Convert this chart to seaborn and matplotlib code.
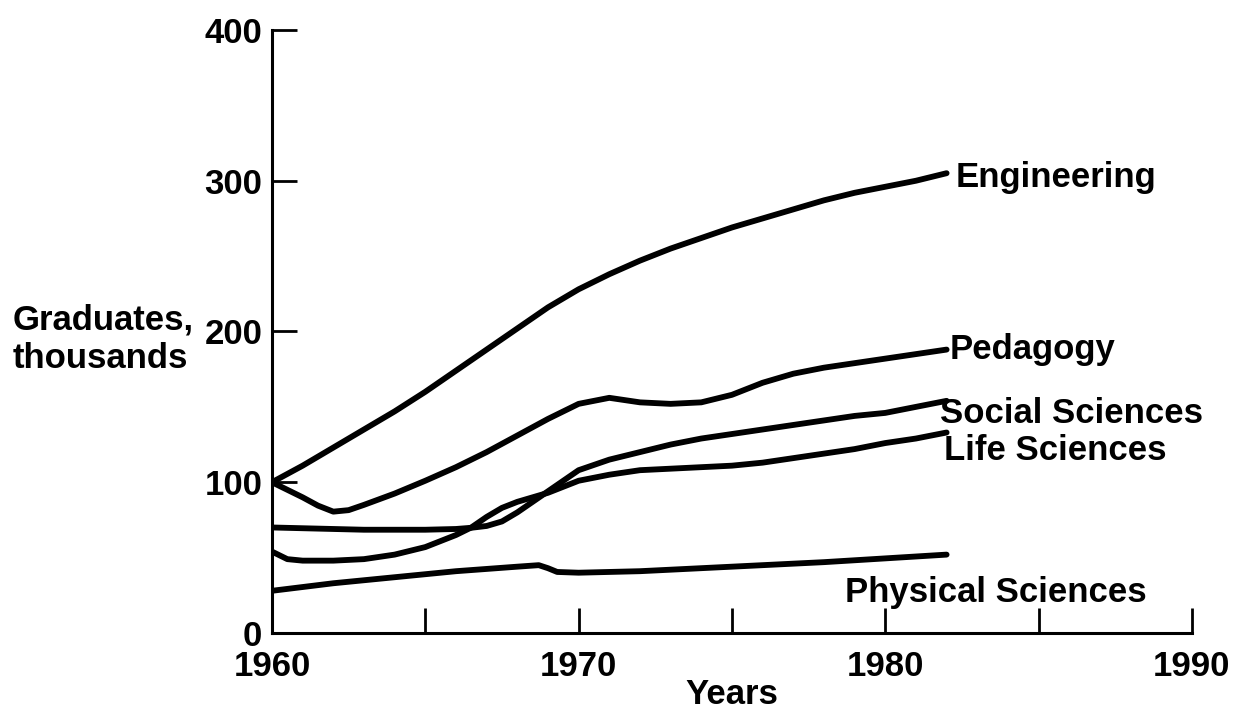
import matplotlib
matplotlib.use("Agg")
import matplotlib.pyplot as plt
import seaborn as sns
import pandas as pd

# values (thousands of graduates)
eng_years = [1960, 1961, 1962, 1963, 1964, 1965, 1966, 1967, 1968, 1969, 1970, 1971,
             1972, 1973, 1974, 1975, 1976, 1977, 1978, 1979, 1980, 1981, 1982]
eng_vals = [100, 111, 123, 135, 147, 160, 174, 188, 202, 216, 228, 238,
            247, 255, 262, 269, 275, 281, 287, 292, 296, 300, 305]

ped_years = [1960, 1961, 1961.5, 1962, 1962.5, 1963, 1964, 1965, 1966, 1967, 1968, 1969,
             1970, 1971, 1972, 1973, 1974, 1975, 1976, 1977, 1978, 1979, 1980, 1981, 1982]
ped_vals = [100, 90, 84.5, 80.5, 81.5, 85, 92.5, 101, 110, 120, 131, 142,
            152, 156, 153, 152, 153, 158, 166, 172, 176, 179, 182, 185, 188]

soc_years = [1960, 1961, 1962, 1963, 1964, 1965, 1966, 1966.5, 1967, 1967.5, 1968, 1968.5,
             1969, 1969.5, 1970, 1971, 1972, 1973, 1974, 1975, 1976, 1977, 1978, 1979,
             1980, 1981, 1982]
soc_vals = [70, 69.5, 69, 68.5, 68.5, 68.5, 69, 69.8, 71, 74, 80, 87,
            94, 101, 108, 115, 120, 125, 129, 132, 135, 138, 141, 144,
            146, 150, 154]

life_years = [1960, 1960.5, 1961, 1962, 1963, 1964, 1965, 1966, 1966.5, 1967, 1967.5, 1968,
              1968.5, 1969, 1969.5, 1970, 1971, 1972, 1973, 1974, 1975, 1976, 1977, 1978,
              1979, 1980, 1981, 1982]
life_vals = [54, 49, 48, 48, 49, 52, 57, 65, 70, 77, 83, 87,
             90, 93, 97, 101, 105, 108, 109, 110, 111, 113, 116, 119,
             122, 126, 129, 133]

phys_years = [1960, 1961, 1962, 1963, 1964, 1965, 1966, 1967, 1968, 1968.7, 1969, 1969.3,
              1970, 1971, 1972, 1974, 1976, 1978, 1980, 1982]
phys_vals = [28, 30.5, 33, 35, 37, 39, 41, 42.5, 44, 45, 43, 40.5,
             40, 40.5, 41, 43, 45, 47, 49.5, 52]

fields = ["Engineering", "Pedagogy", "Social Sciences", "Life Sciences", "Physical Sciences"]
# where each label sits (year, value at baseline)
label_pos = [(1982.3, 296), (1982.1, 182), (1981.8, 139), (1981.9, 115), (1978.7, 20.5)]

frames = []
for name, yrs, vals in zip(fields,
                           [eng_years, ped_years, soc_years, life_years, phys_years],
                           [eng_vals, ped_vals, soc_vals, life_vals, phys_vals]):
    frames.append(pd.DataFrame({"year": yrs, "value": vals, "field": name}))
df = pd.concat(frames, ignore_index=True)

sns.set_style("ticks")
plt.rcParams['font.family'] = ['Liberation Sans', 'DejaVu Sans']
plt.rcParams['font.weight'] = 'bold'
plt.rcParams['font.size'] = 25
for k in ['text.color', 'axes.labelcolor', 'xtick.color', 'ytick.color', 'axes.edgecolor']:
    plt.rcParams[k] = 'black'

fig = plt.figure(figsize=(12.34, 7.19), dpi=100)
ax = fig.add_axes([0.2204, 0.1196, 0.7455, 0.8387])

sns.lineplot(data=df, x="year", y="value", hue="field", palette=["black"] * 5,
             legend=False, errorbar=None, lw=4.2, ax=ax)

for name, (lx, ly) in zip(fields, label_pos):
    ax.text(lx, ly, name, ha="left", va="baseline", fontsize=25,
            fontweight="bold", color="black", clip_on=False)

ax.set_xlim(1960, 1990)
ax.set_ylim(0, 400)
ax.set_xticks([1960, 1965, 1970, 1975, 1980, 1985, 1990])
ax.set_xticklabels(["1960", "", "1970", "", "1980", "", "1990"])
ax.set_yticks([0, 100, 200, 300, 400])

ax.tick_params(axis="both", direction="in", length=18, width=2, colors="black", labelsize=25)
ax.tick_params(axis="x", pad=12)
ax.tick_params(axis="y", pad=7)

sns.despine(ax=ax)
for s in ["left", "bottom"]:
    ax.spines[s].set_linewidth(2.2)
    ax.spines[s].set_color("black")

ax.set_xlabel("Years", fontsize=25, fontweight="bold", color="black")
ax.xaxis.set_label_coords(0.5, -0.075)
ax.set_ylabel("Graduates,\nthousands", rotation=0, ha="left", va="center",
              multialignment="left", linespacing=1.2, fontsize=25,
              fontweight="bold", color="black")
ax.yaxis.set_label_coords(-0.2815, 0.487)

fig.savefig("out.png", dpi=100)
